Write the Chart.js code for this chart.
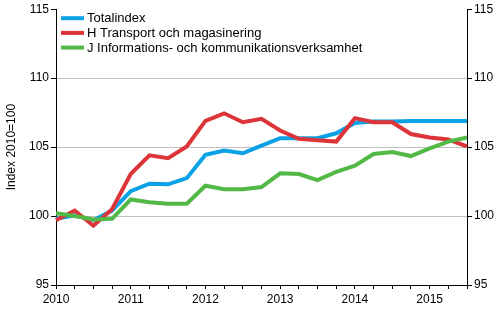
<!DOCTYPE html>
<html>
<head>
<meta charset="utf-8">
<script src="https://cdn.jsdelivr.net/npm/chart.js@4.4.1/dist/chart.umd.min.js"></script>
<style>
  html, body { margin: 0; padding: 0; background: #fff; }
  #wrap { width: 500px; height: 330px; position: relative; }
</style>
</head>
<body>
<div id="wrap"><canvas id="indexChart"></canvas></div>
<script>
// Quarterly index values, 2010 = 100
const quarters = [
  '2010Q1', '2010Q2', '2010Q3', '2010Q4',
  '2011Q1', '2011Q2', '2011Q3', '2011Q4',
  '2012Q1', '2012Q2', '2012Q3', '2012Q4',
  '2013Q1', '2013Q2', '2013Q3', '2013Q4',
  '2014Q1', '2014Q2', '2014Q3', '2014Q4',
  '2015Q1', '2015Q2', '2015Q3'
];
const totalindex = [
  99.8, 100.05, 99.7, 100.4,
  101.8, 102.35, 102.3, 102.75,
  104.45, 104.75, 104.55, 105.1,
  105.65, 105.65, 105.65, 106.0,
  106.75, 106.85, 106.85, 106.9,
  106.9, 106.9, 106.9
];
const transport = [
  99.7, 100.4, 99.3, 100.5,
  103.05, 104.4, 104.2, 105.05,
  106.9, 107.45, 106.8, 107.05,
  106.2, 105.6, 105.5, 105.4,
  107.1, 106.8, 106.8, 105.95,
  105.7, 105.55, 105.05
];
const information = [
  100.2, 100.0, 99.75, 99.8,
  101.2, 101.0, 100.9, 100.9,
  102.2, 101.95, 101.95, 102.1,
  103.1, 103.05, 102.6, 103.2,
  103.65, 104.5, 104.65, 104.35,
  104.9, 105.4, 105.7
];
const seriesNames = [
  'Totalindex',
  'H Transport och magasinering',
  'J Informations- och kommunikationsverksamhet'
];
const seriesColors = ['#0aa2e4', '#dd3439', '#52b947'];
const yMin = 95, yMax = 115, yStep = 5;
const yTitle = 'Index 2010=100';

const FONT = { family: '"Liberation Sans", Arial, sans-serif', size: 12 };
const LEGEND_FONT_SIZE = 13;

// legend drawn inside the plot, top left, with short line swatches
const insideLegend = {
  id: 'insideLegend',
  afterDraw(chart) {
    const ctx = chart.ctx;
    const area = chart.chartArea;
    ctx.save();
    ctx.font = LEGEND_FONT_SIZE + 'px ' + FONT.family;
    ctx.textBaseline = 'middle';
    chart.data.datasets.forEach((ds, i) => {
      const y = area.top + 9 + i * 14.7;
      ctx.strokeStyle = ds.borderColor;
      ctx.lineWidth = 4;
      ctx.beginPath();
      ctx.moveTo(area.left + 5, y);
      ctx.lineTo(area.left + 28, y);
      ctx.stroke();
      ctx.fillStyle = '#000';
      ctx.fillText(ds.label, area.left + 31, y + 0.5);
    });
    ctx.restore();
  }
};

function line(label, data, color, order) {
  return {
    label: label,
    data: data,
    borderColor: color,
    backgroundColor: color,
    borderWidth: 4,
    pointRadius: 0,
    tension: 0,
    fill: false,
    order: order
  };
}

const ctx = document.getElementById('indexChart').getContext('2d');
new Chart(ctx, {
  type: 'line',
  data: {
    labels: quarters,
    datasets: [
      line(seriesNames[0], totalindex, seriesColors[0], 2),
      line(seriesNames[1], transport, seriesColors[1], 1),
      line(seriesNames[2], information, seriesColors[2], 0)
    ]
  },
  options: {
    responsive: true,
    maintainAspectRatio: false,
    animation: false,
    layout: { padding: { top: 8, left: 0, right: 0, bottom: 0 } },
    scales: {
      x: {
        offset: false,
        border: { color: '#000', width: 1 },
        grid: { drawOnChartArea: false, offset: false, tickLength: 4, color: '#000' },
        ticks: {
          autoSkip: false,
          maxRotation: 0,
          padding: 3,
          color: '#000',
          font: FONT,
          callback: function (value) {
            const q = quarters[value];
            return q.endsWith('Q1') ? q.slice(0, 4) : '';
          }
        },
        afterFit: (scale) => { scale.height = 45; }
      },
      y: {
        position: 'left',
        min: yMin,
        max: yMax,
        border: { color: '#000', width: 1 },
        grid: {
          tickLength: 5,
          tickColor: '#000',
          color: (c) => (c.tick && (c.tick.value === yMax || c.tick.value === yMin)) ? 'rgba(0,0,0,0)' : '#c0c0c0'
        },
        ticks: { stepSize: yStep, padding: 2, color: '#000', font: FONT },
        title: { display: true, text: yTitle, color: '#000', font: FONT, padding: { top: 4, bottom: 0 } },
        afterFit: (scale) => { scale.width = 56; }
      },
      y2: {
        position: 'right',
        min: yMin,
        max: yMax,
        border: { color: '#000', width: 1 },
        grid: { drawOnChartArea: false, tickLength: 5, color: '#000' },
        ticks: { stepSize: yStep, padding: 2, color: '#000', font: FONT },
        afterFit: (scale) => { scale.width = 33; }
      }
    },
    plugins: {
      legend: { display: false },
      tooltip: { enabled: false }
    }
  },
  plugins: [insideLegend]
});
</script>
</body>
</html>
